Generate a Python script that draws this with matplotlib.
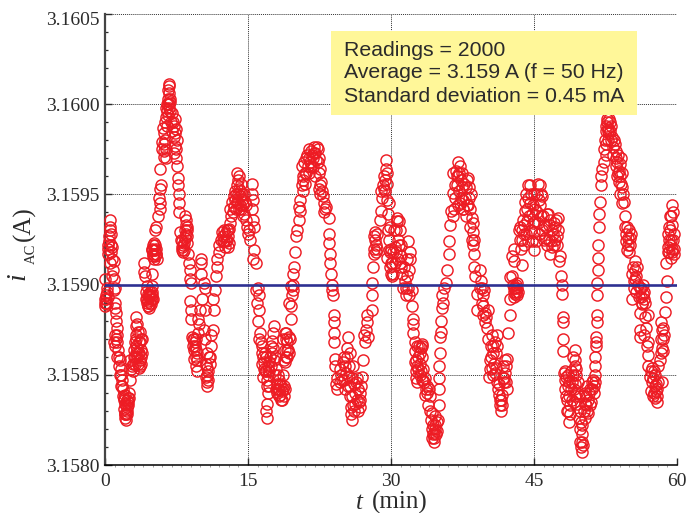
import numpy as np
import matplotlib
matplotlib.use("Agg")
import matplotlib.pyplot as plt
from matplotlib.patches import Rectangle
from matplotlib.ticker import MultipleLocator
from matplotlib.transforms import ScaledTranslation

# readings: (minutes, mA above 3158 mA)
readings_00_10 = [
    (0.0,.92),(0.0,.88),(.1,.94),(.25,.98),(.05,1.03),(.15,.9),(.3,1.2),(.35,1.22),(.4,1.27),(.5,1.36),(.5,1.32),(.6,1.28),(.7,1.21),(.6,1.18),(.5,1.12),
    (.9,1.13),(.8,1.08),(.95,1.03),(.9,.97),(.7,1.05),(1.05,.9),(1.1,.87),(1.15,.84),(1.2,.8),(1.25,.76),(.95,.68),(1.25,.68),(1.1,.66),(1.4,.64),(1.3,.6),(1.6,.58),(1.5,.55),(1.65,.53),
    (1.7,.5),(1.75,.47),(1.8,.44),(1.9,.42),(1.85,.38),(2.1,.34),(2.0,.31),(2.2,.25),(2.15,.28),(2.3,.3),(2.4,.33),(2.5,.37),(2.55,.4),(2.3,.36),(2.6,.47),
    (2.7,.53),(2.65,.58),(2.9,.52),(3.0,.6),(3.1,.56),(3.2,.62),(3.1,.68),(3.2,.72),(3.3,.77),(3.3,.82),(3.45,.74),(3.4,.65),(3.6,.62),(3.7,.68),(3.8,.64),(3.85,.7),(3.7,.74),(3.55,.54),(3.7,.55),
    (4.05,1.12),(4.2,1.05),(4.1,1.07),(4.4,.99),(4.3,.92),(4.4,.9),(4.5,.88),(4.55,.88),(4.6,.94),(4.75,.94),(4.7,.9),(4.85,.92),(4.9,.96),(4.9,.99),(4.9,1.06),(5.1,1.14),(4.9,1.19),
    (5.25,1.19),(5.45,1.14),(5.1,1.23),(5.3,1.17),(5.0,1.16),(5.25,1.3),(5.4,1.32),(5.6,1.38),(5.75,1.42),(5.8,1.45),(5.7,1.48),(5.8,1.53),(5.85,1.55),(5.8,1.64),(6.15,1.71),(6.0,1.75),(6.0,1.79),(6.2,1.78),(6.15,1.84),(6.1,1.87),
    (6.3,1.9),(6.4,1.93),(6.5,1.96),(6.55,2.0),(6.65,2.03),(6.7,2.06),(6.75,2.11),(6.7,2.0),(6.85,2.01),(6.8,1.96),(7.0,1.95),(7.35,1.92),(7.2,1.88),(7.35,1.84),(7.25,1.82),(7.55,1.8),(7.4,1.75),(7.2,1.73),
    (7.6,1.66),(7.7,1.59),(7.7,1.55),(7.75,1.5),(7.8,1.45),(7.8,1.4),(8.4,1.38),(8.6,1.32),(8.45,1.33),(8.65,1.27),(8.5,1.28),(7.9,1.29),(8.05,1.21),(8.25,1.19),(8.1,1.24),(8.3,1.23),(8.75,1.17),(8.8,1.12),
    (8.9,1.08),(8.9,1.03),(9.05,1.01),(8.95,.91),(9.0,.86),(9.05,.81),(9.1,.71),(9.2,.7),(9.45,.66),(9.5,.7),(9.35,.64),(9.6,.58),(9.6,.52),(9.5,.55),(9.8,.73),(9.85,.78),(9.8,.81),(10.0,.86),
]
readings_10_20 = [
    (10.2,.92),(10.05,1.06),(10.05,1.14),(10.1,1.12),(10.35,1.01),(10.45,.98),(10.5,.86),(10.35,.75),(10.5,.7),(10.7,.62),(10.6,.56),(10.7,.5),(10.75,.44),(10.8,.47),(11.0,.56),(11.0,.6),(11.1,.66),(11.15,.72),(11.35,.75),(11.4,.86),(11.3,.92),(11.5,.97),(11.6,1.05),(11.7,1.1),(11.8,1.14),(11.95,1.18),(12.0,1.22),(12.3,1.29),(12.4,1.27),(12.5,1.24),(12.6,1.28),(12.8,1.25),(13.0,1.23),(12.9,1.3),
    (13.15,1.34),(13.2,1.38),(13.15,1.42),(13.3,1.46),(13.5,1.49),(13.4,1.4),(13.6,1.52),(13.85,1.62),(13.85,1.55),(13.9,1.58),(14.0,1.45),(14.05,1.53),(14.15,1.49),(14.2,1.44),(14.4,1.47),(14.75,1.44),(14.6,1.39),(14.9,1.32),(14.8,1.36),(15.0,1.28),(15.25,1.25),(15.1,1.3),
    (15.6,1.32),(15.5,1.36),(15.45,1.42),(15.4,1.5),(15.4,1.56),(15.5,1.47),(15.6,1.19),(15.8,1.12),(15.55,1.14),(15.85,.97),(16.15,.94),(16.0,.98),(16.15,.86),(15.95,.9),(16.1,.8),(16.3,.73),(16.2,.7),(16.4,.68),(16.5,.66),(16.45,.62),(16.65,.53),(16.5,.56),(16.6,.49),(17.0,.26),(17.0,.34),(16.9,.3),(17.05,.4),(17.2,.44),(17.0,.47),(16.9,.52),(17.2,.57),(17.55,.62),(17.7,.77),(17.55,.69),(17.6,.73),(17.65,.65),(17.4,.55),(17.9,.53),(18.1,.5),(18.0,.45),(18.3,.42),(18.6,.36),(18.4,.39),(18.5,.44),(18.8,.44),(18.2,.47),(18.95,.6),(18.95,.73),(18.7,.7),(19.1,.68),(19.3,.9),(19.5,.99),
]
readings_20_39 = [
    (18.9,.42),(18.7,.5),(18.9,.57),(19.05,.64),(18.9,.73),(19.4,.7),(19.5,.81),(19.5,.88),(19.6,.94),(19.75,.97),(19.7,1.0),(19.75,1.06),(19.85,1.1),(19.95,1.18),(20.05,1.27),(20.15,1.3),(20.3,1.36),(20.45,1.41),(20.35,1.43),(20.5,1.47),(20.8,1.52),(20.7,1.55),(20.8,1.58),(20.65,1.66),(21.0,1.62),(21.1,1.7),(21.35,1.75),(21.5,1.68),(21.7,1.72),(22.2,1.76),(21.9,1.73),(21.85,1.65),(22.1,1.69),(22.4,1.7),(22.55,1.64),(22.7,1.57),(22.4,1.53),(22.6,1.5),(22.9,1.49),(23.1,1.42),(23.0,1.45),(23.45,1.37),(23.5,1.28),(23.5,1.23),(23.55,1.17),(23.6,1.12),(23.7,1.06),(23.8,1.0),(23.85,.97),(23.95,.94),
    (24.05,.83),(24.05,.79),(24.05,.73),(24.05,.68),(24.1,.59),(24.15,.55),(24.3,.42),(24.35,.48),(24.25,.45),(24.65,.53),(24.6,.46),(24.8,.5),(25.0,.57),(24.9,.47),(25.2,.55),(25.5,.71),(25.35,.65),(25.7,.62),(25.6,.55),(25.9,.25),(25.85,.32),(25.95,.38),(26.1,.45),(26.2,.4),(26.4,.36),(26.5,.42),(26.75,.32),(26.6,.35),(26.95,.49),(26.85,.44),(27.1,.58),(27.3,.68),(27.2,.72),(27.45,.79),(27.45,.83),(27.6,.71),(27.4,.75),(28.0,.86),(28.0,.94),(28.0,1.01),(28.1,1.1),(28.2,1.17),(28.35,1.25),(28.2,1.27),(28.45,1.22),(28.8,1.36),(29.0,1.41),(29.0,1.52),(29.35,1.58),(29.5,1.69),(29.45,1.64),(29.6,1.62),(29.3,1.53),(29.75,1.45),(29.6,1.47),(29.9,1.32),(29.75,1.19),(29.6,1.15),(29.9,1.1),(30.1,1.05),(30.0,1.12),
    (30.6,1.37),(30.5,1.3),(30.95,1.3),(30.8,1.35),(30.4,1.21),(30.7,1.25),(31.1,1.16),(31.0,1.1),(31.8,1.24),(31.95,1.14),(31.65,1.05),(31.4,1.1),(31.6,.94),(31.8,.98),(32.2,.97),(32.25,.88),(32.35,.81),(32.3,.78),(32.35,.73),(32.5,.68),(33.2,.66),(33.0,.62),(33.3,.6),(32.5,.57),(32.6,.52),(32.7,.46),(33.0,.5),(33.4,.53),(33.2,.47),(33.75,.44),(33.6,.39),(34.1,.38),(33.9,.33),(34.3,.29),(34.2,.25),(34.5,.13),(34.45,.17),(34.6,.2),(34.4,.22),(34.7,.17),(34.95,.25),(35.05,.42),(35.0,.33),(35.0,.48),(35.05,.55),(35.15,.62),(35.15,.71),(35.25,.74),(35.25,.8),(35.3,.87),(35.4,.94),(35.5,.9),(35.75,1.01),(35.6,.98),(35.85,1.08),(36.05,1.17),(36.05,1.24),(36.15,1.33),(36.3,1.41),(36.5,1.38),(36.55,1.51),(36.55,1.62),(36.7,1.55),(37.05,1.68),(36.9,1.6),(37.1,1.62),(37.4,1.54),(37.2,1.45),(37.6,1.47),(38.1,1.59),(37.9,1.54),(37.6,1.42),(37.85,1.38),(38.2,1.48),(38.45,1.37),(38.3,1.32),(38.65,1.29),(38.5,1.25),(38.7,1.17),(38.7,1.1),(38.8,1.05),(39.0,.95),(39.0,.86),
]
readings_39_50 = [
    (39.35,1.08),(39.3,.98),(39.7,.94),(39.5,.9),(40.2,.86),(39.9,.79),(39.7,.83),(41.1,.72),(40.9,.68),(40.2,.7),(40.75,.62),(40.5,.6),(40.4,.53),(40.3,.49),(41.1,.46),(40.9,.51),(42.15,.59),(42.0,.51),(41.8,.55),(42.15,.42),(41.9,.46),(41.5,.3),(41.45,.36),(41.3,.39),(41.6,.33),(42.3,.73),(42.45,.83),(42.45,.92),(42.5,1.04),(43.2,.98),(43.1,1.0),(43.2,.94),(42.9,.96),(42.85,1.13),(42.85,1.2),(42.7,1.16),(42.65,1.05),(43.7,1.11),(43.7,1.25),(43.55,1.32),(43.4,1.3),(43.8,1.36),(44.0,1.28),(44.4,1.55),(44.2,1.5),(44.05,1.41),(44.3,1.35),(44.6,1.45),(44.95,1.19),(44.95,1.29),(44.8,1.39),(45.1,1.35),(45.65,1.55),(45.3,1.5),(45.8,1.49),(45.45,1.34),(45.6,1.44),(46.0,1.25),(45.9,1.38),(46.5,1.39),(46.3,1.32),(46.7,1.17),(46.6,1.25),(46.9,1.3),(47.55,1.37),(47.2,1.32),(47.4,1.27),(47.1,1.22),(47.75,1.16),(47.6,1.13),(47.85,1.05),(47.9,.95),(47.95,1.0),
    (48.0,.82),(48.0,.79),(48.0,.7),(48.0,.63),(48.1,.51),(48.2,.47),(48.6,.44),(48.3,.42),(48.5,.36),(48.7,.24),(48.6,.3),(48.8,.33),(49.3,.64),(49.35,.58),(49.4,.53),(49.1,.5),(49.5,.4),(49.3,.45),(49.2,.35),(49.85,.2),(49.7,.26),(50.0,.07),(49.85,.13),
]
readings_50_60 = [
    (50.1,.11),(50.0,.17),(50.7,.29),(50.4,.26),(50.55,.44),(50.3,.4),(51.25,.4),(51.0,.35),(51.4,.55),(51.2,.47),(51.5,.71),(51.5,.66),(51.55,.68),(51.6,.79),(51.6,.83),(51.6,.94),(51.6,1.01),(51.75,1.08),(51.7,1.15),(51.7,1.22),(51.85,1.32),(51.85,1.39),(51.95,1.46),(52.0,1.55),(52.1,1.64),(52.05,1.6),(52.3,1.68),(52.35,1.75),(52.6,1.72),(52.8,1.87),(52.6,1.85),(52.7,1.9),(52.8,1.8),(53.0,1.85),(53.2,1.82),(53.5,1.78),(53.3,1.72),(53.6,1.7),(54.0,1.67),(53.7,1.6),(53.9,1.57),(54.2,1.54),(54.0,1.5),(54.4,1.46),(54.2,1.45),(54.5,1.38),(54.55,1.32),(54.9,1.26),(55.0,1.3),(54.75,1.19),(54.7,1.24),(55.1,1.22),(55.8,1.1),(55.6,1.13),(55.6,1.03),(55.3,1.06),(55.25,.92),(55.5,.98),(56.5,.92),(56.4,.95),(56.15,.84),(56.3,.89),(57.0,.83),(56.15,.75),(56.15,.71),(56.5,.72),(57.0,.68),(57.0,.61),(56.8,.76),(57.0,.55),(57.2,.49),(57.4,.46),(57.3,.41),(57.6,.4),(57.9,.35),(57.7,.37),(57.95,.42),(58.4,.46),(58.2,.58),(58.0,.55),(58.4,.65),(58.5,.7),(58.4,.75),(58.3,.79),(58.75,.85),(58.85,.93),(58.95,1.02),(58.85,1.12),(59.1,1.21),(59.1,1.28),(59.3,1.38),(59.45,1.44),(59.3,1.3),(59.65,1.17),(59.4,1.15),(59.6,1.25),(59.2,1.18),
]
# the crowded clumps, where rings pile up on each other
clumps_a = [
    (.05,.9),(.12,.92),(.2,.89),(.28,.93),(.22,.96),(.36,1.17),(.44,1.24),(.55,1.3),(.62,1.22),(.75,1.14),(1.0,.98),(1.02,.72),(1.18,.7),(1.3,.72),(1.45,.6),(1.55,.5),(1.7,.44),(1.95,.36),(2.05,.28),(2.1,.26),(2.25,.29),(2.3,.32),(2.35,.28),(2.4,.37),(2.45,.35),(2.2,.33),(2.1,.39),(2.0,.37),
    (2.8,.55),(2.95,.56),(3.05,.64),(3.15,.6),(3.25,.66),(3.35,.6),(3.45,.56),(3.5,.62),(3.55,.68),(3.3,.7),(3.4,.78),(3.65,.58),(3.75,.6),(3.8,.56),(3.9,.62),(3.75,.7),
    (4.35,.96),(4.45,.92),(4.5,.95),(4.55,.91),(4.65,.93),(4.7,.96),(4.8,.89),(4.9,.92),(4.95,.94),(5.0,.92),(4.65,.87),(4.95,1.2),(5.05,1.17),(5.15,1.19),(5.2,1.16),(5.25,1.22),(5.35,1.2),(5.4,1.17),(5.0,1.22),
    (6.45,1.98),(6.6,2.0),(6.6,1.94),(6.75,1.98),(6.8,2.03),(6.6,2.08),(6.7,2.1),(6.55,1.88),(6.9,1.9),(7.1,1.9),(7.05,1.85),(6.2,1.74),(6.3,1.8),(6.35,1.7),(6.45,1.75),(7.3,1.77),(7.4,1.86),(7.45,1.7),
    (8.35,1.26),(8.5,1.36),(8.55,1.3),(8.4,1.3),(8.15,1.18),(8.2,1.22),(8.0,1.25),(8.1,1.19),(8.6,1.23),
    (9.2,.66),(9.3,.7),(9.4,.68),(9.35,.59),(9.5,.6),(9.55,.64),(9.6,.62),(10.55,.49),(10.65,.46),(10.7,.54),(10.8,.52),(10.9,.6),
]
clumps_b = [
    (12.2,1.25),(12.35,1.24),(12.45,1.3),(12.55,1.21),(12.65,1.24),(12.75,1.3),(12.85,1.21),(12.95,1.27),(13.05,1.31),
    (13.5,1.43),(13.6,1.47),(13.7,1.42),(13.75,1.5),(13.8,1.46),(13.95,1.5),(14.05,1.42),(14.2,1.52),(14.3,1.42),(14.35,1.5),(14.5,1.44),(14.55,1.5),(14.65,1.46),(14.45,1.38),(14.3,1.56),(14.1,1.6),
    (16.6,.6),(16.7,.57),(16.75,.62),(16.8,.52),(16.85,.6),(16.95,.44),(17.05,.55),(17.15,.5),(17.25,.52),(17.35,.6),(17.45,.66),(17.7,.58),(17.8,.5),(17.85,.6),(17.95,.42),(18.05,.4),(18.15,.42),(18.25,.38),(18.35,.45),(18.45,.36),(18.55,.41),(18.65,.42),(18.75,.38),
    (18.75,.58),(18.85,.64),(19.0,.7),(19.1,.6),(19.2,.64),(19.25,.71),(19.35,.62),
    (20.75,1.6),(20.9,1.68),(21.0,1.56),(21.1,1.62),(21.2,1.72),(21.3,1.66),(21.4,1.7),(21.45,1.62),(21.6,1.74),(21.65,1.65),(21.8,1.7),(21.95,1.76),(22.0,1.6),(22.05,1.73),(22.3,1.68),(22.3,1.75),(22.45,1.62),(22.5,1.55),(22.8,1.52),(23.0,1.4),(23.2,1.43),
    (25.05,.47),(25.1,.6),(25.2,.42),(25.3,.51),(25.4,.6),(25.45,.44),(25.55,.49),(25.65,.38),(25.75,.44),(25.8,.28),(25.9,.48),(26.0,.33),(26.05,.55),(26.15,.3),(26.25,.34),(26.3,.46),(26.45,.48),(26.55,.3),(26.7,.4),(26.8,.36),
]
clumps_c = [
    (28.25,1.2),(28.3,1.29),(28.4,1.18),(28.5,1.28),(28.55,1.2),(29.1,1.48),(29.15,1.55),(29.25,1.6),(29.4,1.52),(29.55,1.56),(29.65,1.39),(29.7,1.3),(29.8,1.25),(29.85,1.18),(29.95,1.06),(30.05,1.2),(30.15,1.12),(30.2,1.06),(30.25,1.18),(30.35,1.3),(30.45,1.12),(30.55,1.18),(30.65,1.35),(30.75,1.14),(30.85,1.22),(30.95,1.12),(31.05,1.22),(31.2,1.06),(31.3,.98),(31.45,1.02),(31.55,.98),(31.7,1.14),(31.85,1.08),(32.0,1.18),(31.9,.94),
    (32.55,.63),(32.65,.58),(32.7,.66),(32.8,.6),(32.85,.53),(32.9,.66),(33.05,.56),(33.1,.65),(33.15,.52),(33.3,.67),(33.35,.47),(32.6,.48),(32.75,.55),(33.45,.46),(33.55,.48),(33.65,.42),(33.8,.4),(34.0,.42),(34.05,.3),(34.3,.2),(34.35,.15),(34.5,.18),(34.55,.15),(34.6,.27),(34.65,.22),(34.8,.24),(34.85,.19),
    (36.65,1.42),(36.75,1.48),(36.8,1.63),(36.95,1.55),(37.0,1.44),(37.05,1.6),(37.15,1.52),(37.25,1.66),(37.3,1.58),(37.35,1.48),(37.45,1.62),(37.5,1.42),(37.7,1.56),(37.75,1.48),(37.95,1.44),(38.0,1.58),(38.05,1.44),(38.15,1.54),(38.3,1.42),(38.35,1.5),(38.55,1.34),(38.6,1.22),(38.75,1.25),
    (39.45,1.02),(39.55,.98),(39.65,.88),(39.75,.97),(39.85,.84),(40.0,.82),(40.1,.76),(40.35,.58),(40.45,.66),(40.55,.54),(40.6,.72),(40.65,.5),(40.7,.66),(40.85,.56),(41.0,.62),(41.05,.54),(41.15,.66),(41.2,.42),(41.35,.45),(41.4,.33),(41.55,.36),(41.65,.39),(41.7,.48),(41.85,.48),(41.95,.58),(42.05,.46),(42.1,.55),
    (42.75,1.0),(42.85,.98),(42.95,.93),(43.0,.98),(43.05,.95),(43.15,.96),(43.25,1.01),(43.3,.96),
]
clumps_d = [
    (43.5,1.25),(43.65,1.2),(43.75,1.3),(43.9,1.22),(43.95,1.33),(44.1,1.46),(44.15,1.28),(44.25,1.42),(44.35,1.24),(44.4,1.48),(44.5,1.38),(44.55,1.55),(44.65,1.3),(44.7,1.5),(44.75,1.24),(44.85,1.44),(44.9,1.34),(45.05,1.5),(45.15,1.42),(45.2,1.24),(45.35,1.4),(45.4,1.56),(45.5,1.47),(45.55,1.28),(45.7,1.5),(45.75,1.38),(45.85,1.3),(46.1,1.33),(46.2,1.26),(46.35,1.39),(46.4,1.22),(46.55,1.33),(46.65,1.36),(46.75,1.24),(46.85,1.21),(47.0,1.28),(47.15,1.34),(47.25,1.25),(47.35,1.36),(47.45,1.22),(47.5,1.3),
    (48.3,.52),(48.35,.38),(48.4,.49),(48.45,.3),(48.55,.5),(48.65,.38),(48.7,.46),(48.75,.28),(48.85,.42),(48.9,.52),(48.95,.36),(49.0,.46),(49.05,.6),(49.15,.42),(49.25,.55),(49.3,.38),(49.45,.5),(49.55,.34),(49.6,.46),(49.7,.38),(49.8,.3),(49.9,.24),(49.95,.1),(50.0,.13),(50.05,.22),
    (50.2,.3),(50.3,.34),(50.45,.33),(50.5,.38),(50.6,.3),(50.65,.36),(50.75,.4),(50.85,.33),(50.9,.42),(51.05,.42),(51.1,.46),(51.3,.44),(51.35,.5),(51.45,.46),(51.45,.6),
    (52.45,1.8),(52.5,1.88),(52.55,1.78),(52.65,1.92),(52.75,1.85),(52.85,1.92),(52.9,1.84),(52.95,1.9),(53.05,1.8),(53.1,1.88),(53.25,1.76),(53.4,1.8),(53.55,1.66),(53.65,1.74),(53.75,1.68),(53.8,1.62),(53.85,1.72),(53.95,1.63),(54.05,1.6),(54.1,1.7),(54.15,1.56),(54.25,1.62),(54.3,1.5),
    (54.65,1.28),(54.8,1.32),(54.85,1.22),(54.95,1.18),(55.05,1.26),(55.15,1.28),(55.4,1.1),(55.45,1.02),(55.55,1.08),(55.7,.96),(55.75,1.05),(55.9,1.0),(56.0,.93),(56.1,.98),(56.2,.93),(56.25,.98),(56.35,.9),(56.45,1.0),(56.55,.96),(56.6,.9),(56.65,.82),(56.85,.66),
    (57.25,.52),(57.35,.54),(57.45,.38),(57.5,.48),(57.55,.52),(57.65,.44),(57.7,.5),(57.75,.41),(57.8,.45),(57.85,.38),(58.05,.46),(58.3,.62),(58.35,.7),(58.5,.63),(58.55,.76),(58.6,.72),
    (59.05,1.18),(59.15,1.25),(59.2,1.32),(59.25,1.22),(59.35,1.25),(59.45,1.2),(59.5,1.33),(59.55,1.4),(59.5,1.18),(59.65,1.28),(59.7,1.2),(59.4,1.38),
]
mean_current = 3.1590
x_ticks = [0, 15, 30, 45, 60]
y_ticks = [3.1580, 3.1585, 3.1590, 3.1595, 3.1600, 3.1605]
info_lines = ["Readings = 2000", "Average = 3.159 A (f = 50 Hz)", "Standard deviation = 0.45 mA"]

readings = np.array(readings_00_10 + readings_10_20 + readings_20_39 + readings_39_50 + readings_50_60
                    + clumps_a + clumps_b + clumps_c + clumps_d)
t = readings[:, 0]
i_ac = 3.158 + readings[:, 1] / 1000

ink = '#2b2b2b'
plt.rcParams['font.family'] = 'Liberation Serif'

fig = plt.figure(figsize=(7, 5.13), dpi=100)
ax = fig.add_axes([105 / 700, 48 / 513, 572 / 700, 451 / 513])

ax.plot(t, i_ac, 'o', mfc='none', mec='#ED1C24', ms=8.0, mew=1.05, clip_on=False, zorder=3)
ax.axhline(mean_current, color='#2E3192', lw=1.9, zorder=4)

ax.set_xlim(0, 60)
ax.set_ylim(3.1580, 3.1605)
ax.set_xticks(x_ticks)
ax.set_yticks(y_ticks)
ax.yaxis.set_major_formatter(lambda v, pos: f"{v:.4f}")
ax.xaxis.set_minor_locator(MultipleLocator(1))
ax.yaxis.set_minor_locator(MultipleLocator(0.0001))
ax.grid(True, which='major', color='#333333', ls=(0, (1, 1)), lw=0.7)
ax.set_axisbelow(True)

ax.spines['top'].set_visible(False)
ax.spines['right'].set_visible(False)
ax.spines['left'].set_linewidth(1.6)
ax.spines['left'].set_color('#444444')
ax.spines['bottom'].set_linewidth(1.1)
ax.tick_params(which='major', direction='in', length=5, width=1, labelsize=14, labelcolor=ink, color=ink)
ax.tick_params(axis='y', which='major', pad=4)
ax.tick_params(axis='x', which='major', pad=6)
ax.tick_params(axis='y', which='minor', direction='in', length=2.5, width=0.9, color=ink)
ax.tick_params(axis='x', which='minor', direction='out', length=1.5, width=0.5, color='#777777')

# top label sits a bit under its gridline
top_label = ax.get_yticklabels()[-1]
top_label.set_transform(top_label.get_transform() + ScaledTranslation(0, -4 / 100, fig.dpi_scale_trans))

# x label, sat a little lower than usual
fig.text(356 / 700, 1 - 509 / 513, "t", style='italic', fontsize=18, color=ink, va='baseline')
fig.text(372 / 700, 1 - 509 / 513, "(min)", fontsize=18, color=ink, va='baseline')
# y label in pieces so the subscript can be small
fig.text(30 / 700, 1 - 272 / 513, "i", style='italic', fontsize=20, color=ink, rotation=90, va='bottom', ha='right', rotation_mode='anchor')
fig.text(35 / 700, 1 - 264 / 513, "AC", fontsize=10.5, color=ink, rotation=90, va='baseline', ha='left', rotation_mode='anchor')
fig.text(30 / 700, 1 - 241 / 513, "(A)", fontsize=18, color=ink, rotation=90, va='baseline', ha='left', rotation_mode='anchor')

fig.add_artist(Rectangle((331 / 700, 1 - 115 / 513), 306 / 700, 84 / 513, transform=fig.transFigure,
                         fc='#FFF799', ec='none', zorder=5))
for line, y_px in zip(info_lines, [50, 73, 96]):
    fig.text(344 / 700, 1 - y_px / 513, line, family='Liberation Sans', fontsize=15.3, color=ink,
             va='center', ha='left', zorder=6)

fig.savefig('out.png', dpi=100)
